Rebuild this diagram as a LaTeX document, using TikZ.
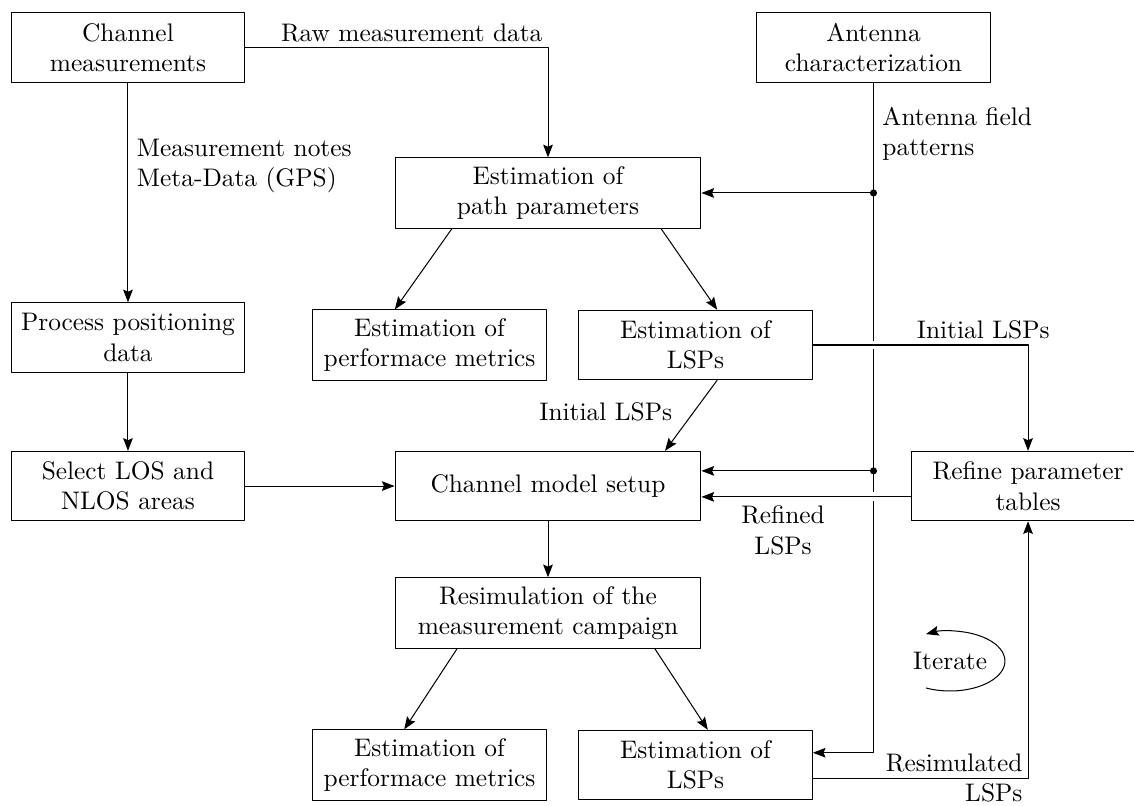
\documentclass[tikz,border=0pt]{standalone}
\usetikzlibrary{calc,arrows.meta}
\begin{document}
\begin{tikzpicture}[>={Stealth[length=5pt,width=3.8pt,inset=0.8pt]},line join=round,
blk/.style={draw,text width=3cm,align=center,minimum height=0.96cm},
wideblk/.style={blk,text width=4cm},
hop/.style={preaction={draw=white,-,line width=3.5pt,shorten <=1pt,shorten >=1pt}}]
\useasboundingbox (0,0) rectangle (15.702,-11.147);
\node[blk] (chm) at (1.772,-0.658) {Channel\\measurements};
\node[blk] (ant) at (12.095,-0.658) {Antenna\\characterization};
\node[wideblk] (pp) at (7.588,-2.672) {Estimation of\\path parameters};
\node[blk] (ppd) at (1.772,-4.673) {Process positioning\\data};
\node[blk] (perf1) at (5.947,-4.777) {Estimation of\\performace metrics};
\node[blk] (lsp1) at (9.631,-4.777) {Estimation of\\LSPs};
\node[blk] (los) at (1.772,-6.730) {Select LOS and\\NLOS areas};
\node[wideblk] (cms) at (7.588,-6.730) {Channel model setup};
\node[blk] (ref) at (14.235,-6.730) {Refine parameter\\tables};
\node[wideblk] (resim) at (7.588,-8.488) {Resimulation of the\\measurement campaign};
\node[blk] (perf2) at (5.947,-10.593) {Estimation of\\performace metrics};
\node[blk] (lsp2) at (9.631,-10.593) {Estimation of\\LSPs};
\node (iter) at (13.155,-9.153) {Iterate};
\coordinate (cmsa) at ($(cms.east)+(0,0.21)$);
\coordinate (cmsb) at ($(cms.east)+(0,-0.15)$);
\coordinate (lspa) at ($(lsp2.east)+(0,0.17)$);
\coordinate (lspb) at ($(lsp2.east)+(0,-0.18)$);
\draw[->] (chm.east) -| node[above left,inner sep=2pt]{Raw measurement data} (pp.north);
\draw[->] (chm) -- node[pos=0.38,right,align=left]{Measurement notes\\Meta-Data (GPS)} (ppd);
\draw[->] (ppd) -- (los);
\draw[->] (los) -- (cms);
\draw[->] (ant.south) |- (lspa);
\node[right,align=left] (afp) at ($(ant.south)+(0,-0.71)$) {Antenna field\\patterns};
\fill (ant.south |- pp.east) circle (1.4pt);
\draw[->] (ant.south |- pp.east) -- (pp.east);
\fill (ant.south |- cmsa) circle (1.4pt);
\draw[->] (ant.south |- cmsa) -- (cmsa);
\draw[->] ($(pp.south)+(-1.33,0)$) -- ($(perf1.north)+(-0.48,0)$);
\draw[->] ($(pp.south)+(1.565,0)$) -- ($(lsp1.north)+(0.3,0)$);
\draw[->] ($(lsp1.south)+(0.3,0)$) -- node[pos=0.45,left,xshift=-5pt]{Initial LSPs} ($(cms.north)+(1.62,0)$);
\draw[->,hop] (lsp1.east) -| (ref.north);
\node[above,inner sep=2pt] (il) at ($(lsp1.east -| ref.north)+(-0.62,0)$) {Initial LSPs};
\draw[->,hop] (ref.west |- cmsb) -- node[pos=0.61,below,align=center]{Refined\\LSPs} (cmsb);
\draw[->] (cms) -- (resim);
\draw[->] ($(resim.south)+(-1.26,0)$) -- ($(perf2.north)+(-0.35,0)$);
\draw[->] ($(resim.south)+(1.48,0)$) -- ($(lsp2.north)+(0.17,0)$);
\draw[->] (lspb) -| node[left,align=right,inner sep=2pt]{Resimulated\\LSPs} (ref.south);
\draw[->] (iter.center) ++(-116:0.76 and 0.415) arc[start angle=-116,end angle=116,x radius=0.76,y radius=0.415];
\end{tikzpicture}
\end{document}
